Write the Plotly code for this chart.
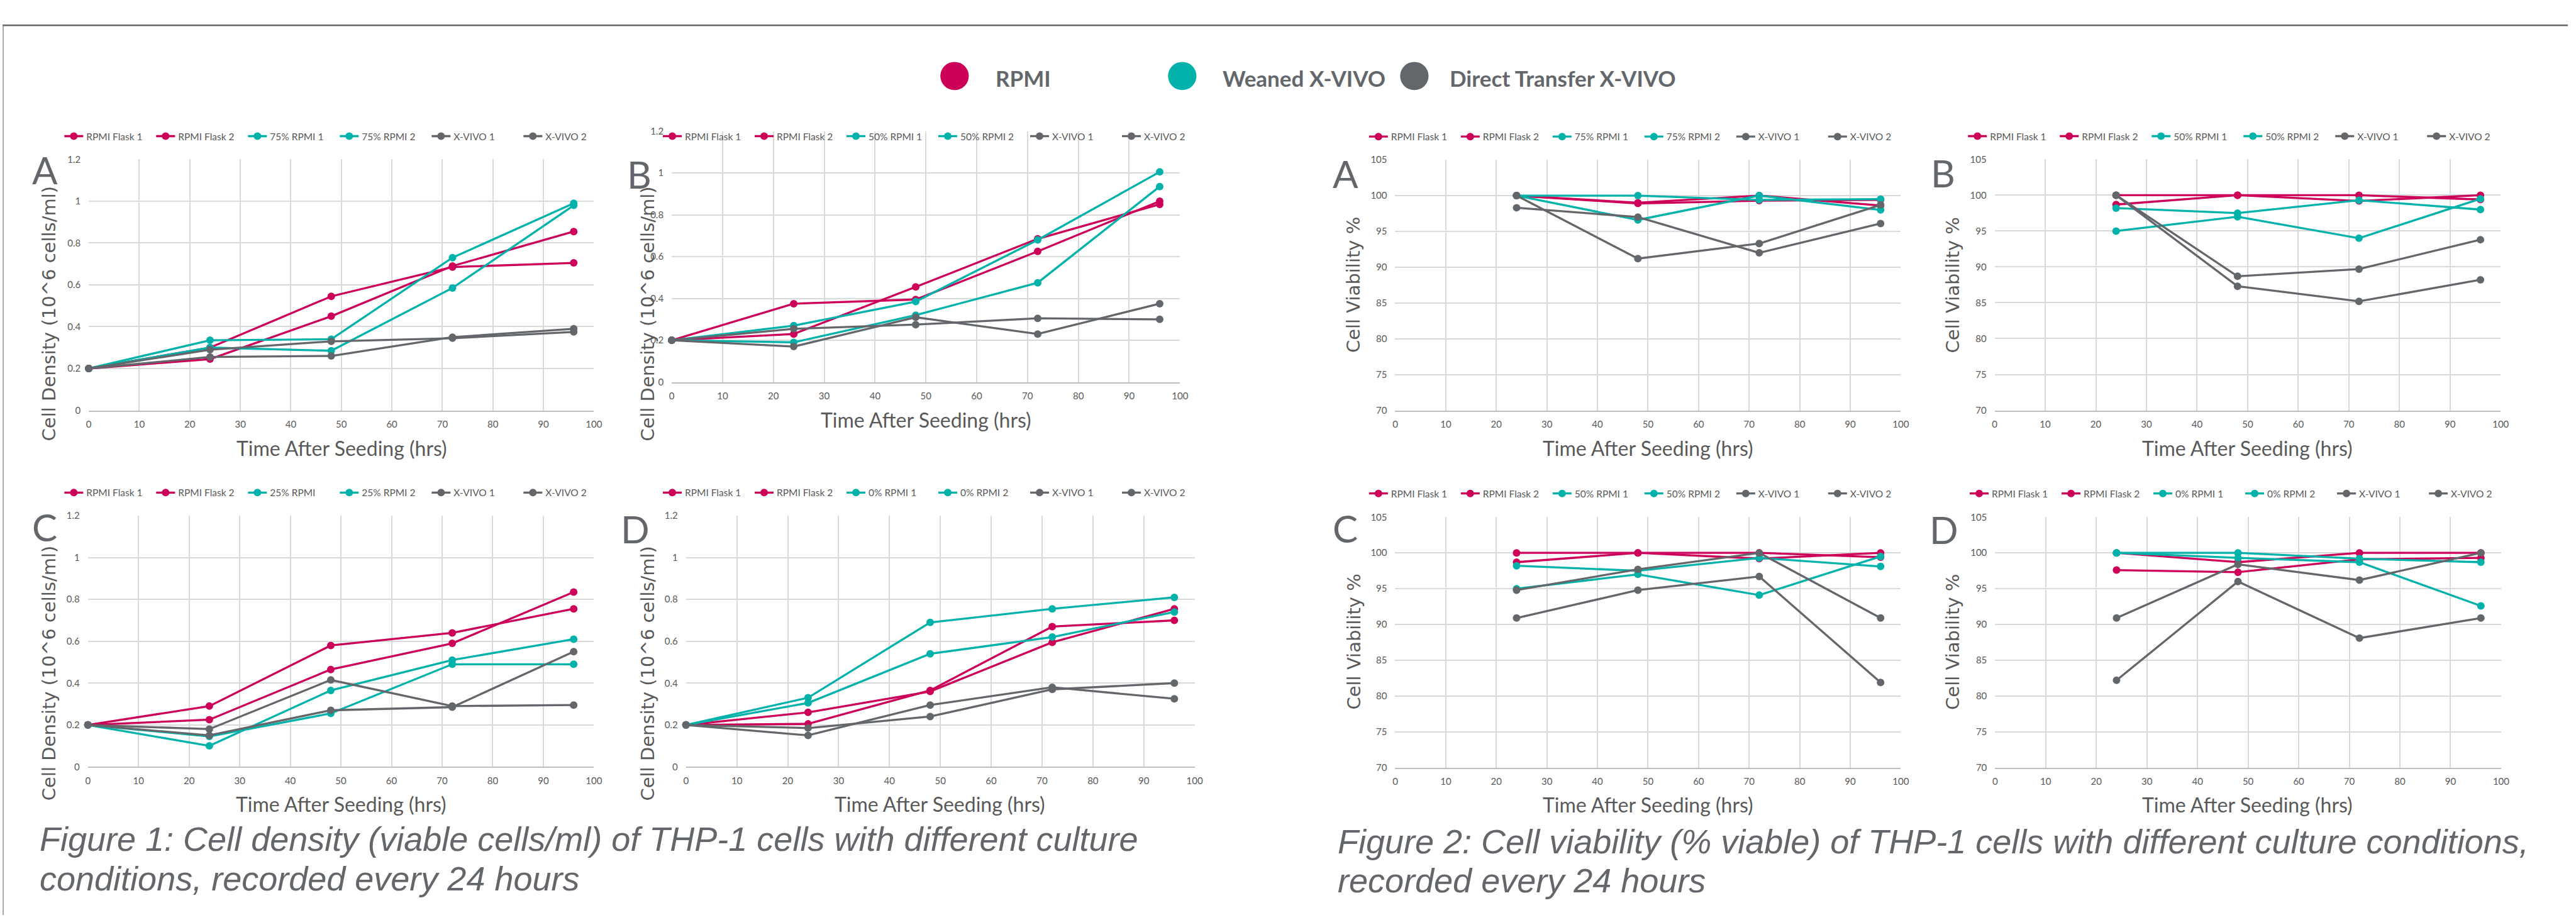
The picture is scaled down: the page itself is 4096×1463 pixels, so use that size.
import plotly.graph_objects as go

# ---------------------------------------------------------------- canvas
W, H = 4096, 1463
REF_W, REF_H = 5769, 2060          # layout coordinates are given on this grid
K = W / REF_W                       # pixel scale factor


def fx(x):
    return x / REF_W


def fy(y):
    return 1 - y / REF_H


# ---------------------------------------------------------------- data
hours_density = [0, 24, 48, 72, 96]
hours_viability = [24, 48, 72, 96]

groups = ["RPMI", "Weaned X-VIVO", "Direct Transfer X-VIVO"]
group_colors = ["#CC0058", "#00B2A9", "#63666A"]
series_group = [0, 0, 1, 1, 2, 2]          # which group each of the 6 series belongs to

# Figure 1 - cell density (10^6 cells/ml)
names_density_A = ["RPMI Flask 1", "RPMI Flask 2", "75% RPMI 1", "75% RPMI 2", "X-VIVO 1", "X-VIVO 2"]
density_A = [
    [0.2, 0.30, 0.545, 0.685, 0.705],
    [0.2, 0.245, 0.45, 0.69, 0.855],
    [0.2, 0.335, 0.34, 0.73, 0.99],
    [0.2, 0.30, 0.285, 0.585, 0.98],
    [0.2, 0.29, 0.33, 0.345, 0.375],
    [0.2, 0.255, 0.26, 0.35, 0.39],
]

names_density_B = ["RPMI Flask 1", "RPMI Flask 2", "50% RPMI 1", "50% RPMI 2", "X-VIVO 1", "X-VIVO 2"]
density_B = [
    [0.2, 0.375, 0.395, 0.625, 0.865],
    [0.2, 0.23, 0.455, 0.685, 0.85],
    [0.2, 0.27, 0.385, 0.68, 1.005],
    [0.2, 0.19, 0.32, 0.475, 0.935],
    [0.2, 0.255, 0.275, 0.305, 0.30],
    [0.2, 0.17, 0.31, 0.23, 0.375],
]

names_density_C = ["RPMI Flask 1", "RPMI Flask 2", "25% RPMI", "25% RPMI 2", "X-VIVO 1", "X-VIVO 2"]
density_C = [
    [0.2, 0.29, 0.58, 0.64, 0.755],
    [0.2, 0.225, 0.465, 0.59, 0.835],
    [0.2, 0.10, 0.365, 0.51, 0.61],
    [0.2, 0.145, 0.255, 0.49, 0.49],
    [0.2, 0.18, 0.415, 0.29, 0.295],
    [0.2, 0.15, 0.27, 0.285, 0.55],
]

names_density_D = ["RPMI Flask 1", "RPMI Flask 2", "0% RPMI 1", "0% RPMI 2", "X-VIVO 1", "X-VIVO 2"]
density_D = [
    [0.2, 0.26, 0.36, 0.595, 0.755],
    [0.2, 0.205, 0.365, 0.67, 0.70],
    [0.2, 0.33, 0.69, 0.755, 0.81],
    [0.2, 0.305, 0.54, 0.62, 0.74],
    [0.2, 0.185, 0.24, 0.37, 0.40],
    [0.2, 0.15, 0.295, 0.38, 0.325],
]

# Figure 2 - cell viability (%)
names_viability_A = ["RPMI Flask 1", "RPMI Flask 2", "75% RPMI 1", "75% RPMI 2", "X-VIVO 1", "X-VIVO 2"]
viability_A = [
    [100, 99.0, 100, 98.6],
    [100, 98.9, 99.3, 99.4],
    [100, 100, 99.4, 99.5],
    [100, 96.6, 100, 98.0],
    [100, 91.2, 93.3, 98.7],
    [98.3, 97.0, 92.0, 96.1],
]

names_viability_B = ["RPMI Flask 1", "RPMI Flask 2", "50% RPMI 1", "50% RPMI 2", "X-VIVO 1", "X-VIVO 2"]
viability_B = [
    [100, 100, 100, 99.4],
    [98.7, 100, 99.2, 100],
    [98.2, 97.5, 99.3, 98.0],
    [95.0, 97.0, 94.0, 99.5],
    [100, 88.7, 89.7, 93.8],
    [100, 87.3, 85.2, 88.2],
]

names_viability_C = ["RPMI Flask 1", "RPMI Flask 2", "50% RPMI 1", "50% RPMI 2", "X-VIVO 1", "X-VIVO 2"]
viability_C = [
    [100, 100, 100, 99.4],
    [98.7, 100, 99.2, 100],
    [98.2, 97.5, 99.3, 98.1],
    [95.0, 97.0, 94.1, 99.5],
    [94.8, 97.7, 100, 90.9],
    [90.9, 94.8, 96.7, 81.9],
]

names_viability_D = ["RPMI Flask 1", "RPMI Flask 2", "0% RPMI 1", "0% RPMI 2", "X-VIVO 1", "X-VIVO 2"]
viability_D = [
    [100, 98.7, 100, 100],
    [97.6, 97.3, 99.1, 99.3],
    [100, 100, 99.2, 98.7],
    [100, 99.3, 98.7, 92.6],
    [90.9, 98.4, 96.2, 100],
    [82.2, 96.0, 88.1, 90.9],
]

density_ticks = [0, 0.2, 0.4, 0.6, 0.8, 1, 1.2]
viability_ticks = [70, 75, 80, 85, 90, 95, 100, 105]
hour_ticks = list(range(0, 101, 10))

caption_1 = ["Figure 1: Cell density (viable cells/ml) of THP-1 cells with different culture",
             "conditions, recorded every 24 hours"]
caption_2 = ["Figure 2: Cell viability (% viable) of THP-1 cells with different culture conditions,",
             "recorded every 24 hours"]

DENS_TITLE = "Cell Density (10^6 cells/ml)"
VIAB_TITLE = "Cell Viability %"
X_TITLE = "Time After Seeding (hrs)"

# ---------------------------------------------------------------- panel geometry
# plot = (left, right, top, bottom); everything on the 5769 x 2060 grid
panels = [
    dict(letter="A", names=names_density_A, values=density_A, hours=hours_density,
         ticks=density_ticks, ytitle=DENS_TITLE, plot=(194, 1330, 347, 916),
         legend=(139, 295), letter_pos=(95, 371), ytitle_pos=(104, 697), xtitle_pos=(763, 1001)),
    dict(letter="B", names=names_density_B, values=density_B, hours=hours_density,
         ticks=density_ticks, ytitle=DENS_TITLE, plot=(1505, 2648, 283, 852),
         legend=(1485, 295), letter_pos=(1432, 380), ytitle_pos=(1451, 697), xtitle_pos=(2077, 938)),
    dict(letter="C", names=names_density_C, values=density_C, hours=hours_density,
         ticks=density_ticks, ytitle=DENS_TITLE, plot=(192, 1330, 1155, 1724),
         legend=(139, 1103), letter_pos=(95, 1181), ytitle_pos=(104, 1512), xtitle_pos=(762, 1809)),
    dict(letter="D", names=names_density_D, values=density_D, hours=hours_density,
         ticks=density_ticks, ytitle=DENS_TITLE, plot=(1537, 2681, 1155, 1724),
         legend=(1485, 1103), letter_pos=(1423, 1184), ytitle_pos=(1451, 1512), xtitle_pos=(2108, 1809)),
    dict(letter="A", names=names_viability_A, values=viability_A, hours=hours_viability,
         ticks=viability_ticks, ytitle=VIAB_TITLE, plot=(3132, 4269, 348, 916),
         legend=(3073, 296), letter_pos=(3020, 379), ytitle_pos=(3039, 632), xtitle_pos=(3700, 1001)),
    dict(letter="B", names=names_viability_B, values=viability_B, hours=hours_viability,
         ticks=viability_ticks, ytitle=VIAB_TITLE, plot=(4480, 5618, 347, 916),
         legend=(4420, 295), letter_pos=(4364, 378), ytitle_pos=(4386, 632), xtitle_pos=(5048, 1001)),
    dict(letter="C", names=names_viability_C, values=viability_C, hours=hours_viability,
         ticks=viability_ticks, ytitle=VIAB_TITLE, plot=(3132, 4269, 1158, 1726),
         legend=(3073, 1105), letter_pos=(3020, 1183), ytitle_pos=(3039, 1441), xtitle_pos=(3700, 1810)),
    dict(letter="D", names=names_viability_D, values=viability_D, hours=hours_viability,
         ticks=viability_ticks, ytitle=VIAB_TITLE, plot=(4481, 5619, 1158, 1726),
         legend=(4424, 1105), letter_pos=(4366, 1186), ytitle_pos=(4386, 1441), xtitle_pos=(5049, 1810)),
]

TEXT_GREY = "#595959"
GRID = "#D9D9D9"
CALIBRI_LIKE = "Lato, Carlito, Calibri, sans-serif"
GOTHIC_LIKE = "DejaVu Sans, Century Gothic, sans-serif"

fig = go.Figure()
layout = dict(
    width=W, height=H, margin=dict(l=0, r=0, t=0, b=0),
    paper_bgcolor="white", plot_bgcolor="white", showlegend=True,
)
annotations = []
shapes = []

for i, p in enumerate(panels):
    n = i + 1
    xa = "x" if n == 1 else f"x{n}"
    ya = "y" if n == 1 else f"y{n}"
    leg = "legend" if n == 1 else f"legend{n}"
    left, right, top, bottom = p["plot"]

    # series: red first, then teal, grey on top
    for name, vals, g in zip(p["names"], p["values"], series_group):
        fig.add_trace(go.Scatter(
            x=p["hours"], y=vals, name=name, mode="lines+markers",
            xaxis=xa, yaxis=ya, legend=leg,
            line=dict(color=group_colors[g], width=3.3),
            marker=dict(color=group_colors[g], size=12, symbol="circle"),
            cliponaxis=False,
        ))

    lo, hi = p["ticks"][0], p["ticks"][-1]
    layout["xaxis" if n == 1 else f"xaxis{n}"] = dict(
        domain=[fx(left), fx(right)], anchor=ya, range=[0, 100],
        tickvals=hour_ticks, showgrid=True, gridcolor=GRID, gridwidth=1.5,
        zeroline=False, showline=True, linecolor="#BFBFBF", linewidth=1.5,
        ticks="", tickfont=dict(family=CALIBRI_LIKE, size=15, color=TEXT_GREY),
        ticklabelstandoff=8, fixedrange=True,
    )
    layout["yaxis" if n == 1 else f"yaxis{n}"] = dict(
        domain=[fy(bottom), fy(top)], anchor=xa, range=[lo, hi],
        tickvals=p["ticks"], showgrid=True, gridcolor=GRID, gridwidth=1.5,
        zeroline=False, showline=False, ticks="",
        tickfont=dict(family=CALIBRI_LIKE, size=15, color=TEXT_GREY),
        ticklabelstandoff=12, fixedrange=True,
    )
    lx, ly = p["legend"]
    layout[leg] = dict(
        orientation="h", x=fx(lx - 7), y=fy(ly), xanchor="left", yanchor="middle",
        xref="paper", yref="paper", bgcolor="rgba(0,0,0,0)", borderwidth=0,
        font=dict(family=CALIBRI_LIKE, size=15.5, color=TEXT_GREY),
        itemwidth=30, entrywidth=101, entrywidthmode="pixels",
        traceorder="normal", itemclick=False, itemdoubleclick=False,
    )

    # panel letter
    annotations.append(dict(
        text=p["letter"], x=fx(p["letter_pos"][0]), y=fy(p["letter_pos"][1]),
        xref="paper", yref="paper", xanchor="center", yanchor="middle", showarrow=False,
        font=dict(family=CALIBRI_LIKE, size=60, color="#63666A"),
    ))
    # y title
    annotations.append(dict(
        text=p["ytitle"], x=fx(p["ytitle_pos"][0]), y=fy(p["ytitle_pos"][1]),
        xref="paper", yref="paper", xanchor="center", yanchor="middle", showarrow=False,
        textangle=-90, font=dict(family=GOTHIC_LIKE, size=29, color=TEXT_GREY),
    ))
    # x title
    annotations.append(dict(
        text=X_TITLE, x=fx(p["xtitle_pos"][0]), y=fy(p["xtitle_pos"][1]),
        xref="paper", yref="paper", xanchor="center", yanchor="middle", showarrow=False,
        font=dict(family=CALIBRI_LIKE, size=32, color=TEXT_GREY),
    ))

# ---------------------------------------------------------------- header key
key_circle_x = [2141, 2653, 3175]
key_text_x = [2230, 2741, 3252]
key_y = 158
key_r = 32
for name, color, cx, tx in zip(groups, group_colors, key_circle_x, key_text_x):
    shapes.append(dict(
        type="circle", xref="paper", yref="paper",
        x0=fx(cx - key_r), x1=fx(cx + key_r), y0=fy(key_y + key_r), y1=fy(key_y - key_r),
        fillcolor=color, line=dict(width=0),
    ))
    annotations.append(dict(
        text=f"<b>{name}</b>", x=fx(tx), y=fy(key_y + 4), xref="paper", yref="paper",
        xanchor="left", yanchor="middle", showarrow=False,
        font=dict(family=CALIBRI_LIKE, size=35, color="#63666A"),
    ))

# ---------------------------------------------------------------- captions
CAPTION_FONT = dict(family="Liberation Sans, Arial, sans-serif", size=54, color="#63666A")
for lines, x0, y_lines in [(caption_1, 81, (1888, 1977)), (caption_2, 3000, (1893, 1982))]:
    for line, yl in zip(lines, y_lines):
        annotations.append(dict(
            text=f"<i>{line}</i>", x=fx(x0), y=fy(yl), xref="paper", yref="paper",
            xanchor="left", yanchor="middle", showarrow=False, font=CAPTION_FONT,
        ))

# ---------------------------------------------------------------- frame
shapes.append(dict(type="line", xref="paper", yref="paper",
                   x0=0, x1=1, y0=fy(43), y1=fy(43), line=dict(color="#63666A", width=2.5)))
shapes.append(dict(type="line", xref="paper", yref="paper",
                   x0=fx(1.5), x1=fx(1.5), y0=fy(43), y1=0, line=dict(color="#8C8C8C", width=1.5)))

layout["annotations"] = annotations
layout["shapes"] = shapes
fig.update_layout(**layout)

fig.write_html("out.html")
